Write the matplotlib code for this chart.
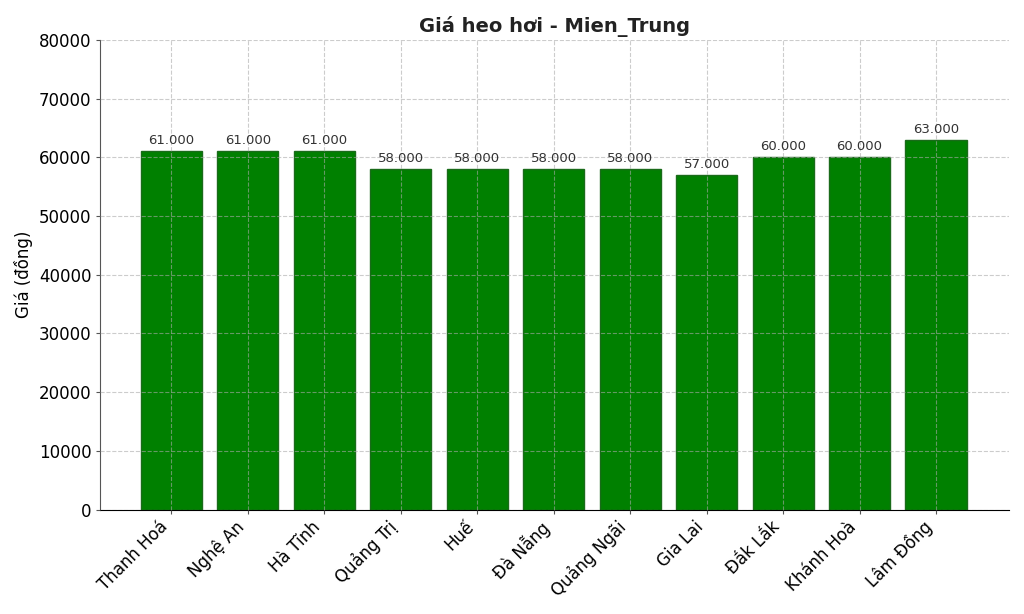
import matplotlib
matplotlib.use("Agg")
import matplotlib.pyplot as plt

provinces = ["Thanh Hoá", "Nghệ An", "Hà Tĩnh", "Quảng Trị", "Huế", "Đà Nẵng",
             "Quảng Ngãi", "Gia Lai", "Đắk Lắk", "Khánh Hoà", "Lâm Đồng"]
prices = [61000, 61000, 61000, 58000, 58000, 58000, 58000, 57000, 60000, 60000, 63000]
yticks = [0, 10000, 20000, 30000, 40000, 50000, 60000, 70000, 80000]

plt.rcParams["font.family"] = ["DejaVu Sans"]
fig, ax = plt.subplots(figsize=(10.24, 6.14), dpi=100)
fig.subplots_adjust(left=0.098, right=0.985, top=0.935, bottom=0.17)

x = list(range(len(provinces)))
ax.bar(x, prices, width=0.8, color="green", edgecolor="#1a6b1a", linewidth=1, zorder=1)
for xi, v in zip(x, prices):
    ax.text(xi, v + 700, f"{v:,}".replace(",", "."), ha="center", va="bottom",
            fontsize=9.5, color="#333333", zorder=3)

ax.set_xlim(-0.93, 10.95)
ax.set_ylim(0, 80000)
ax.set_yticks(yticks)
ax.set_xticks(x)
ax.set_xticklabels(provinces, rotation=45, ha="right", fontsize=12)
ax.tick_params(axis="y", labelsize=12, length=3, width=0.8, color="#555555")
ax.tick_params(axis="x", length=3, width=0.8, color="#555555", pad=3)
ax.grid(True, ls="--", color="#aaaaaa", lw=0.8, alpha=0.6, zorder=2)
ax.set_axisbelow(False)
for s in ("top", "right"):
    ax.spines[s].set_visible(False)
ax.spines["left"].set_color("#555555")
ax.set_ylabel("Giá (đồng)", fontsize=12)
ax.set_title("Giá heo hơi - Mien_Trung", fontsize=14, fontweight="bold", color="#222222")

plt.savefig("out.png", dpi=100)
